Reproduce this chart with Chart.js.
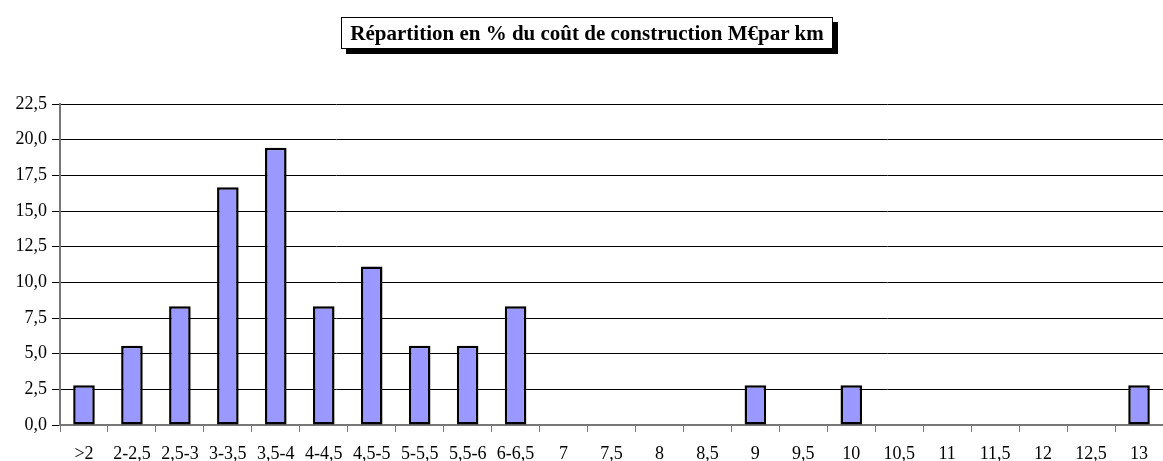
<!DOCTYPE html>
<html lang="fr">
<head>
    <meta charset="UTF-8">
    <title>Répartition du coût de construction</title>
    <script src="https://cdn.jsdelivr.net/npm/chart.js"></script>
    <style>
        body { margin: 0; background: #fff; }
        #wrap { position: relative; width: 1163px; height: 461px; }
        #title {
            position: absolute; left: 341px; top: 17px; width: 492px; height: 32px;
            box-sizing: border-box; border: 1px solid #000; background: #fff;
            box-shadow: 5px 5px 0 #000;
            font: bold 21px "Liberation Serif", serif; color: #000;
            display: flex; align-items: center; justify-content: center;
            white-space: nowrap;
        }
    </style>
</head>
<body>
<div id="wrap">
    <canvas id="costChart" width="1163" height="461"></canvas>
    <div id="title">Répartition en % du coût de construction M€par km</div>
</div>

<script>
    // classes de coût (M€ par km)
    const categories = [">2", "2-2,5", "2,5-3", "3-3,5", "3,5-4", "4-4,5", "4,5-5", "5-5,5", "5,5-6", "6-6,5",
        "7", "7,5", "8", "8,5", "9", "9,5", "10", "10,5", "11", "11,5", "12", "12,5", "13"];
    // part en %
    const shares = [2.78, 5.56, 8.33, 16.67, 19.44, 8.33, 11.11, 5.56, 5.56, 8.33,
        0, 0, 0, 0, 2.78, 0, 2.78, 0, 0, 0, 0, 0, 2.78];

    const fr = v => v.toFixed(1).replace(".", ",");

    new Chart(document.getElementById("costChart"), {
        type: "bar",
        data: {
            labels: categories,
            datasets: [{
                data: shares,
                backgroundColor: "#9999ff",
                borderColor: "#000",
                borderWidth: 2.5,
                borderSkipped: false,
                barPercentage: 0.45,
                categoryPercentage: 1
            }]
        },
        options: {
            responsive: false,
            animation: false,
            layout: { padding: { top: 104, right: 0, bottom: 0, left: 0 } },
            plugins: { legend: { display: false }, tooltip: { enabled: false } },
            scales: {
                x: {
                    afterFit: s => { s.height = 36; },
                    grid: { drawOnChartArea: false, offset: true, tickLength: 7, color: "#777" },
                    border: { color: "#777", width: 2 },
                    ticks: { color: "#000", padding: 11, maxRotation: 0, autoSkip: false,
                        font: { family: "Liberation Serif", size: 18 } }
                },
                y: {
                    min: 0, max: 22.5,
                    afterFit: s => { s.width = 60; },
                    grid: { color: "#000", tickLength: 8, lineWidth: 1 },
                    border: { color: "#777", width: 2 },
                    ticks: { stepSize: 2.5, color: "#000", padding: 5, callback: v => fr(v),
                        font: { family: "Liberation Serif", size: 18 } }
                }
            }
        }
    });
</script>
</body>
</html>
